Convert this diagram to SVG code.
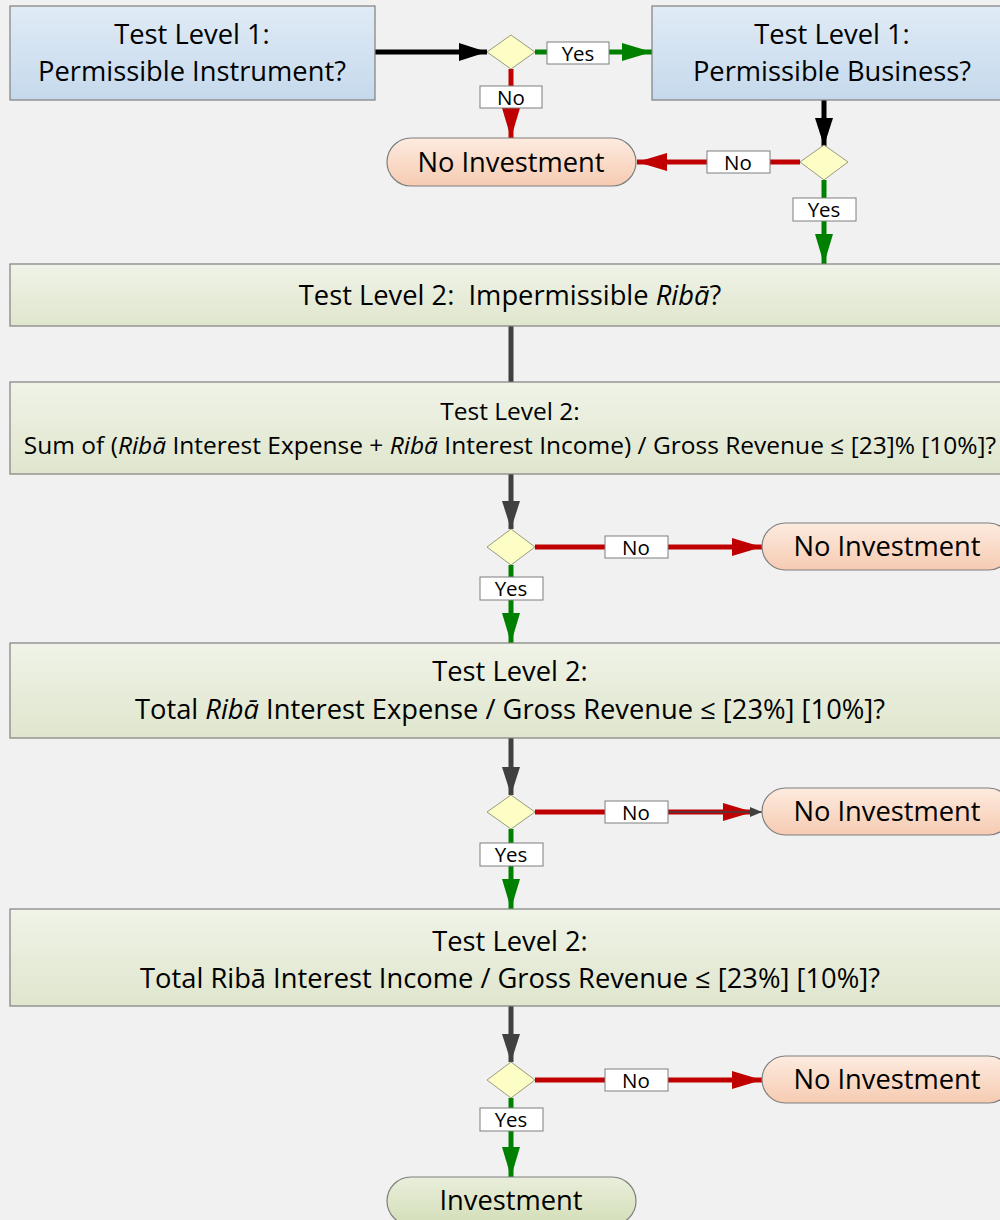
<svg xmlns="http://www.w3.org/2000/svg" width="1000" height="1220" viewBox="0 0 1000 1220">
  <defs>
    <linearGradient id="gBlue" x1="0" y1="0" x2="0" y2="1">
      <stop offset="0" stop-color="#e0ebf6"/>
      <stop offset="1" stop-color="#c5d9ec"/>
    </linearGradient>
    <linearGradient id="gGreen" x1="0" y1="0" x2="0" y2="1">
      <stop offset="0" stop-color="#f0f3e8"/>
      <stop offset="1" stop-color="#dfe6cd"/>
    </linearGradient>
    <linearGradient id="gPeach" x1="0" y1="0" x2="0" y2="1">
      <stop offset="0" stop-color="#fdebdf"/>
      <stop offset="1" stop-color="#f6cbb2"/>
    </linearGradient>
    <linearGradient id="gInvest" x1="0" y1="0" x2="0" y2="1">
      <stop offset="0" stop-color="#e9eedb"/>
      <stop offset="1" stop-color="#d3deb8"/>
    </linearGradient>
    <marker id="aBlack" markerUnits="userSpaceOnUse" markerWidth="28" markerHeight="20" refX="28" refY="10" orient="auto">
      <path d="M0,1 L28,10 L0,19 z" fill="#000"/>
    </marker>
    <marker id="aGray" markerUnits="userSpaceOnUse" markerWidth="28" markerHeight="20" refX="28" refY="10" orient="auto">
      <path d="M0,1 L28,10 L0,19 z" fill="#404040"/>
    </marker>
    <marker id="aRed" markerUnits="userSpaceOnUse" markerWidth="30" markerHeight="20" refX="30" refY="10" orient="auto">
      <path d="M0,1 L30,10 L0,19 z" fill="#c00000"/>
    </marker>
    <marker id="aGreen" markerUnits="userSpaceOnUse" markerWidth="30" markerHeight="20" refX="30" refY="10" orient="auto">
      <path d="M0,1 L30,10 L0,19 z" fill="#008000"/>
    </marker>
    <marker id="aSmall" markerUnits="userSpaceOnUse" markerWidth="12" markerHeight="10" refX="12" refY="5" orient="auto">
      <path d="M0,0 L12,5 L0,10 z" fill="#404040"/>
    </marker>
  </defs>
  <style>
    text { font-family: "Open Sans", "Noto Sans", "Liberation Sans", sans-serif; fill: #000; text-anchor: middle; }
    .box { stroke: #7f7f7f; stroke-width: 1.2; }
    .diamond { fill: #fdfdc6; stroke: #9a9a80; stroke-width: 1; }
    .lbl { fill: #fff; stroke: #7f7f7f; stroke-width: 1; }
    .lbltxt { font-size: 20.5px; }
    .big { font-size: 27.3px; }
    .mid { font-size: 24.5px; }
    .c-black { stroke: #000; stroke-width: 5; fill: none; }
    .c-gray { stroke: #404040; stroke-width: 5; fill: none; }
    .c-red { stroke: #c00000; stroke-width: 5; fill: none; }
    .c-green { stroke: #008000; stroke-width: 5; fill: none; }
    .c-thin { stroke: #404040; stroke-width: 1.5; fill: none; }
  </style>

  <rect x="0" y="0" width="1000" height="1220" fill="#f1f1f1"/>

  <!-- connectors -->
  <g id="connectors">
    <line class="c-black" x1="375" y1="52" x2="487" y2="52" marker-end="url(#aBlack)"/>
    <line class="c-green" x1="535" y1="52" x2="652" y2="52" marker-end="url(#aGreen)"/>
    <line class="c-red" x1="511" y1="69" x2="511" y2="138" marker-end="url(#aRed)"/>
    <line class="c-black" x1="824" y1="100" x2="824" y2="146" marker-end="url(#aBlack)"/>
    <line class="c-red" x1="800" y1="162" x2="637" y2="162" marker-end="url(#aRed)"/>
    <line class="c-green" x1="824" y1="180" x2="824" y2="264" marker-end="url(#aGreen)"/>
    <line class="c-gray" x1="511" y1="326" x2="511" y2="382"/>

    <line class="c-gray" x1="511" y1="474" x2="511" y2="529" marker-end="url(#aGray)"/>
    <line class="c-red" x1="535" y1="547" x2="762" y2="547" marker-end="url(#aRed)"/>
    <line class="c-green" x1="511" y1="565" x2="511" y2="643" marker-end="url(#aGreen)"/>

    <line class="c-gray" x1="511" y1="738" x2="511" y2="795" marker-end="url(#aGray)"/>
    <line class="c-red" x1="535" y1="812" x2="753" y2="812" marker-end="url(#aRed)"/>
    <line class="c-thin" x1="668" y1="812" x2="762" y2="812" marker-end="url(#aSmall)"/>
    <line class="c-green" x1="511" y1="829" x2="511" y2="909" marker-end="url(#aGreen)"/>

    <line class="c-gray" x1="511" y1="1006" x2="511" y2="1062" marker-end="url(#aGray)"/>
    <line class="c-red" x1="535" y1="1080" x2="762" y2="1080" marker-end="url(#aRed)"/>
    <line class="c-green" x1="511" y1="1098" x2="511" y2="1177" marker-end="url(#aGreen)"/>

    <!-- branch labels -->
    <rect class="lbl" x="547" y="42" width="62" height="22"/>
    <text class="lbltxt" x="578" y="60.5">Yes</text>
    <rect class="lbl" x="480" y="86" width="62" height="22"/>
    <text class="lbltxt" x="511" y="104.5">No</text>
    <rect class="lbl" x="707" y="151" width="63" height="22"/>
    <text class="lbltxt" x="738" y="169.5">No</text>
    <rect class="lbl" x="793" y="198" width="63" height="23"/>
    <text class="lbltxt" x="824" y="217">Yes</text>

    <rect class="lbl" x="605" y="536" width="63" height="22"/>
    <text class="lbltxt" x="636" y="554.5">No</text>
    <rect class="lbl" x="480" y="577" width="63" height="23"/>
    <text class="lbltxt" x="511" y="596">Yes</text>

    <rect class="lbl" x="605" y="801" width="63" height="22"/>
    <text class="lbltxt" x="636" y="819.5">No</text>
    <rect class="lbl" x="480" y="843" width="63" height="23"/>
    <text class="lbltxt" x="511" y="862">Yes</text>

    <rect class="lbl" x="605" y="1069" width="63" height="22"/>
    <text class="lbltxt" x="636" y="1087.5">No</text>
    <rect class="lbl" x="480" y="1108" width="63" height="23"/>
    <text class="lbltxt" x="511" y="1127">Yes</text>
  </g>

  <!-- level 1 tests -->
  <g id="instrument">
    <rect class="box" x="10" y="6" width="365" height="94" fill="url(#gBlue)"/>
    <text class="big" x="192" y="44">Test Level 1:</text>
    <text class="big" x="192" y="81">Permissible Instrument?</text>
  </g>
  <g id="business">
    <rect class="box" x="652" y="6" width="365" height="94" fill="url(#gBlue)"/>
    <text class="big" x="832" y="44">Test Level 1:</text>
    <text class="big" x="832" y="81">Permissible Business?</text>
  </g>
  <g id="decision1">
    <polygon class="diamond" points="511,35 535,52 511,69 487,52"/>
  </g>
  <g id="decision2">
    <polygon class="diamond" points="824,145 848,162 824,180 800,162"/>
  </g>
  <g id="noinvest1">
    <rect class="box" x="387" y="138" width="249" height="48" rx="24" fill="url(#gPeach)"/>
    <text class="big" x="511" y="172">No Investment</text>
  </g>

  <!-- level 2 tests -->
  <g id="riba">
    <rect class="box" x="10" y="264" width="1002" height="62" fill="url(#gGreen)"/>
    <text class="big" x="510" y="305" xml:space="preserve">Test Level 2:  Impermissible <tspan font-style="italic">Ribā</tspan>?</text>
  </g>
  <g id="sumtest">
    <rect class="box" x="10" y="382" width="1002" height="92" fill="url(#gGreen)"/>
    <text class="mid" x="510" y="420">Test Level 2:</text>
    <text class="mid" x="510" y="454">Sum of (<tspan font-style="italic">Ribā</tspan> Interest Expense + <tspan font-style="italic">Ribā</tspan> Interest Income) / Gross Revenue ≤ [23]% [10%]?</text>
  </g>
  <g id="decision3">
    <polygon class="diamond" points="511,529 535,547 511,565 487,547"/>
  </g>
  <g id="noinvest2">
    <rect class="box" x="762" y="523" width="250" height="47" rx="23.5" fill="url(#gPeach)"/>
    <text class="big" x="887" y="556">No Investment</text>
  </g>

  <g id="expensetest">
    <rect class="box" x="10" y="643" width="1002" height="95" fill="url(#gGreen)"/>
    <text class="big" x="510" y="681">Test Level 2:</text>
    <text class="big" x="510" y="719">Total <tspan font-style="italic">Ribā</tspan> Interest Expense / Gross Revenue ≤ [23%] [10%]?</text>
  </g>
  <g id="decision4">
    <polygon class="diamond" points="511,795 535,812 511,829 487,812"/>
  </g>
  <g id="noinvest3">
    <rect class="box" x="762" y="788" width="250" height="47" rx="23.5" fill="url(#gPeach)"/>
    <text class="big" x="887" y="821">No Investment</text>
  </g>

  <g id="incometest">
    <rect class="box" x="10" y="909" width="1002" height="97" fill="url(#gGreen)"/>
    <text class="big" x="510" y="951">Test Level 2:</text>
    <text class="big" x="510" y="988">Total Ribā Interest Income / Gross Revenue ≤ [23%] [10%]?</text>
  </g>
  <g id="decision5">
    <polygon class="diamond" points="511,1062 535,1080 511,1098 487,1080"/>
  </g>
  <g id="noinvest4">
    <rect class="box" x="762" y="1056" width="250" height="47" rx="23.5" fill="url(#gPeach)"/>
    <text class="big" x="887" y="1089">No Investment</text>
  </g>

  <g id="investment">
    <rect class="box" x="387" y="1177" width="249" height="48" rx="24" fill="url(#gInvest)"/>
    <text class="big" x="511" y="1210">Investment</text>
  </g>
</svg>
